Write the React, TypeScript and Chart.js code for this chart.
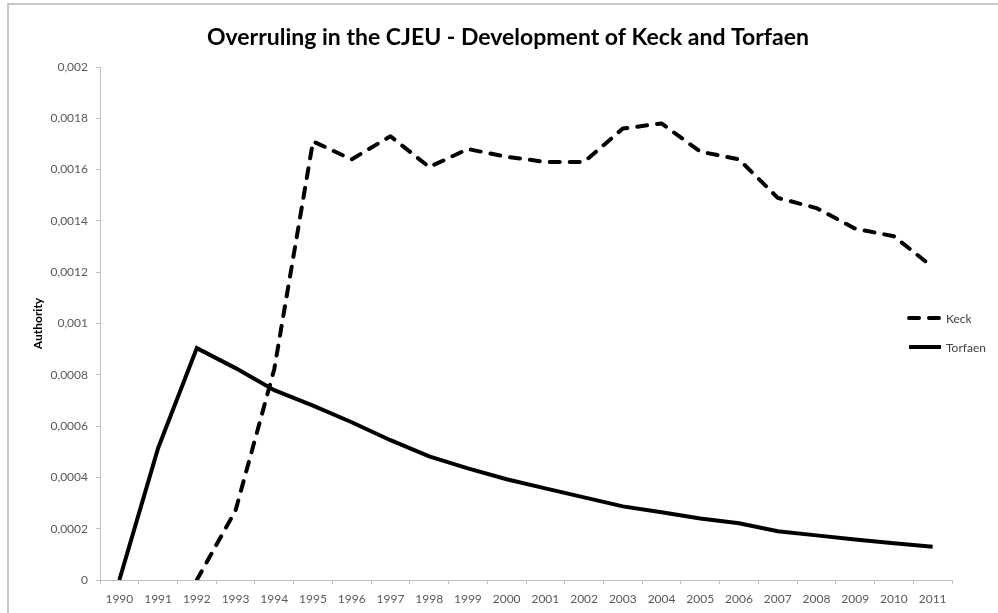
import React, { useEffect, useRef } from 'react';
import { Chart, registerables } from 'chart.js';

Chart.register(...registerables);

const years = ['1990', '1991', '1992', '1993', '1994', '1995', '1996', '1997', '1998', '1999', '2000',
  '2001', '2002', '2003', '2004', '2005', '2006', '2007', '2008', '2009', '2010', '2011'];

const keck = [null, null, 0, 0.000271, 0.000822, 0.00171, 0.00164, 0.00173, 0.00161, 0.00168, 0.00165,
  0.00163, 0.00163, 0.00176, 0.00178, 0.00167, 0.00164, 0.00149, 0.00145, 0.00137, 0.00134, 0.00122];

const torfaen = [0, 0.000514, 0.000904, 0.000826, 0.00074, 0.00068, 0.000615, 0.000545, 0.000482, 0.000435, 0.000393,
  0.000357, 0.000322, 0.000287, 0.000264, 0.00024, 0.000221, 0.00019, 0.000174, 0.000158, 0.000143, 0.00013];

const yTicks = [0, 0.0002, 0.0004, 0.0006, 0.0008, 0.001, 0.0012, 0.0014, 0.0016, 0.0018, 0.002];

const seriesNames = ['Keck', 'Torfaen'];
const chartTitle = 'Overruling in the CJEU - Development of Keck and Torfaen';
const yAxisTitle = 'Authority';

const FONT = 'Lato, "Open Sans", sans-serif';
const AXIS_COLOR = '#c0c0c0';
const TICK_COLOR = '#595959';

const fmt = (v: number) => Number(v.toFixed(4)).toString().replace('.', ',');

const titleAndLegend = {
  id: 'titleAndLegend',
  afterDraw(chart: any) {
    const { ctx, chartArea } = chart;
    ctx.save();
    // title
    ctx.fillStyle = '#000000';
    ctx.font = `bold 23px ${FONT}`;
    ctx.textAlign = 'center';
    ctx.textBaseline = 'middle';
    ctx.fillText(chartTitle, chart.width / 2 + 9, 38);

    // legend
    const x0 = chartArea.right - 45;
    const rowY = [chartArea.top + 251, chartArea.top + 280];
    chart.data.datasets.forEach((ds: any, i: number) => {
      const y = rowY[i];
      ctx.beginPath();
      ctx.strokeStyle = ds.borderColor;
      ctx.lineWidth = ds.borderWidth;
      ctx.lineCap = ds.borderCapStyle || 'butt';
      ctx.setLineDash(ds.borderDash || []);
      ctx.moveTo(x0 + 2, y);
      ctx.lineTo(x0 + 34, y);
      ctx.stroke();
      ctx.setLineDash([]);
      ctx.fillStyle = '#404040';
      ctx.font = `12px ${FONT}`;
      ctx.textAlign = 'left';
      ctx.textBaseline = 'middle';
      ctx.fillText(ds.label, x0 + 39, y + 1);
    });
    ctx.restore();
  },
};

export default function App() {
  const canvasRef = useRef<HTMLCanvasElement | null>(null);

  useEffect(() => {
    document.body.style.margin = '0';
    const canvas = canvasRef.current;
    if (!canvas) return;
    const chart = new Chart(canvas, {
      type: 'line',
      data: {
        labels: years,
        datasets: [
          {
            label: seriesNames[0],
            data: keck,
            borderColor: '#000000',
            backgroundColor: '#000000',
            borderWidth: 4,
            borderDash: [10, 10],
            borderCapStyle: 'round',
            borderJoinStyle: 'round',
            pointRadius: 0,
            tension: 0,
            fill: false,
          },
          {
            label: seriesNames[1],
            data: torfaen,
            borderColor: '#000000',
            backgroundColor: '#000000',
            borderWidth: 4,
            borderCapStyle: 'butt',
            borderJoinStyle: 'miter',
            pointRadius: 0,
            tension: 0,
            fill: false,
          },
        ],
      },
      options: {
        animation: false,
        responsive: true,
        maintainAspectRatio: false,
        layout: { padding: { top: 67, right: 46, bottom: 0, left: 0 } },
        plugins: {
          legend: { display: false },
          title: { display: false },
          tooltip: { enabled: false },
        },
        scales: {
          x: {
            type: 'category',
            offset: true,
            grid: {
              offset: true,
              drawOnChartArea: false,
              drawTicks: true,
              tickLength: 4,
              color: AXIS_COLOR,
            },
            border: { display: true, color: AXIS_COLOR, width: 1 },
            ticks: {
              font: { family: FONT, size: 12 },
              color: TICK_COLOR,
              padding: 8,
              maxRotation: 0,
              autoSkip: false,
            },
            afterFit: (s: any) => { s.height = 33; },
          },
          y: {
            type: 'linear',
            min: 0,
            max: 0.002,
            grid: {
              drawOnChartArea: false,
              drawTicks: true,
              tickLength: 4,
              color: AXIS_COLOR,
            },
            border: { display: true, color: AXIS_COLOR, width: 1 },
            afterBuildTicks: (s: any) => { s.ticks = yTicks.map((v) => ({ value: v })); },
            ticks: {
              font: { family: FONT, size: 12 },
              color: TICK_COLOR,
              padding: 8,
              callback: (v: any) => fmt(Number(v)),
            },
            title: {
              display: true,
              text: yAxisTitle,
              font: { family: FONT, size: 12, weight: 'bold' },
              color: '#000000',
              padding: { top: 31, bottom: 0 },
            },
            afterFit: (s: any) => { s.width = 100; },
          },
        },
      },
      plugins: [titleAndLegend],
    } as any);
    return () => chart.destroy();
  }, []);

  return (
    <div style={{ position: 'relative', width: 998, height: 613, overflow: 'hidden', background: '#ffffff' }}>
      <canvas ref={canvasRef} style={{ position: 'absolute', left: 0, top: 0 }} />
      <div
        style={{
          position: 'absolute',
          left: 7,
          top: 3,
          width: 1100,
          height: 700,
          borderLeft: '2px solid #c8c8c8',
          borderTop: '2px solid #c8c8c8',
          pointerEvents: 'none',
        }}
      />
    </div>
  );
}
